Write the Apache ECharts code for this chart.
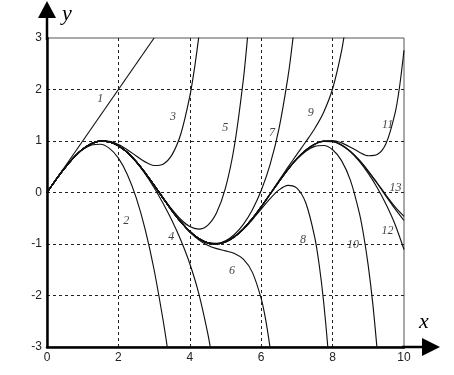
<!DOCTYPE html>
<html><head><meta charset="utf-8">
<script src="https://cdn.jsdelivr.net/npm/echarts@6/dist/echarts.min.js"></script>
<style>html,body{margin:0;padding:0;background:#fff}#c{width:454px;height:375px}</style>
</head><body><div id="c"></div>
<script>
// sin x reference
const sinX = [0,0.25,0.5,0.75,1,1.25,1.5,1.75,2,2.25,2.5,2.75,3,3.25,3.5,3.75,4,4.25,4.5,4.75,5,5.25,5.5,5.75,6,6.25,6.5,6.75,7,7.25,7.5,7.75,8,8.25,8.5,8.75,9,9.25,9.5,9.75,10];
const sinY = [0,0.2474,0.4794,0.6816,0.8415,0.9490,0.9975,0.9840,0.9093,0.7781,0.5985,0.3817,0.1411,-0.1082,-0.3508,-0.5716,-0.7568,-0.8950,-0.9775,-0.9993,-0.9589,-0.8589,-0.7055,-0.5083,-0.2794,-0.0332,0.2151,0.4500,0.6570,0.8231,0.9380,0.9946,0.9894,0.9226,0.7985,0.6247,0.4121,0.1743,-0.0752,-0.3195,-0.5440];

// Taylor partial sums, numbered as in the figure
const c1 = [[0,0],[3,3]];
const c2 = [[0,0],[0.25,0.2474],[0.5,0.4792],[0.75,0.6797],[1,0.8333],[1.25,0.9245],[1.5,0.9375],[1.75,0.8568],[2,0.6667],[2.25,0.3516],[2.5,-0.1042],[2.75,-0.7161],[3,-1.5],[3.25,-2.4714],[3.375,-3.032],[3.5,-3.6458]];
const c3 = [[0,0],[0.25,0.2474],[0.5,0.4794],[0.75,0.6817],[1,0.8417],[1.25,0.9499],[1.5,1.0008],[1.75,0.9936],[2,0.9333],[2.25,0.8321],[2.5,0.7096],[2.75,0.5946],[3,0.525],[3.25,0.5502],[3.5,0.7310],[3.75,1.1407],[4,1.8667],[4.125,2.380],[4.25,3.011]];
const c4 = [[0,0],[0.5,0.4794],[1,0.8415],[1.25,0.9490],[1.5,0.9974],[1.75,0.9836],[2,0.9079],[2.25,0.7742],[2.5,0.5885],[2.75,0.3586],[3,0.0911],[3.25,-0.2097],[3.5,-0.5456],[3.75,-0.9285],[4,-1.3841],[4.25,-1.958],[4.5,-2.724],[4.625,-3.211]];
const c5 = [[0,0],[0.5,0.4794],[1,0.8415],[1.5,0.9975],[1.75,0.9840],[2,0.9093],[2.25,0.7781],[2.5,0.5985],[2.75,0.3834],[3,0.1453],[3.25,-0.0982],[3.5,-0.3284],[3.75,-0.5244],[4,-0.6617],[4.25,-0.7113],[4.5,-0.6388],[4.75,-0.394],[5,0.089],[5.25,0.908],[5.5,2.195],[5.625,3.073]];
const c6 = [[0,0],[0.5,0.4794],[1,0.8415],[1.5,0.9975],[1.75,0.9840],[2,0.9093],[2.25,0.7781],[2.5,0.5985],[2.75,0.3817],[3,0.1408],[3.25,-0.109],[3.5,-0.3527],[3.75,-0.576],[4,-0.7668],[4.25,-0.916],[4.5,-1.0227],[4.75,-1.0898],[5,-1.134],[5.25,-1.184],[5.5,-1.295],[5.75,-1.546],[6,-2.061],[6.125,-2.470],[6.25,-3.021]];
const c7 = [[0,0],[0.5,0.4794],[1,0.8415],[1.5,0.9975],[1.75,0.9840],[2,0.9093],[2.25,0.7781],[2.5,0.5985],[2.75,0.3817],[3,0.1411],[3.25,-0.1082],[3.5,-0.3508],[3.75,-0.5714],[4,-0.756],[4.25,-0.893],[4.5,-0.973],[4.75,-0.9893],[5,-0.9375],[5.25,-0.815],[5.5,-0.6182],[5.75,-0.3394],[6,0.0372],[6.25,0.5448],[6.5,1.2449],[6.75,2.2439],[6.875,2.9067],[7,3.7173]];
const c8 = [[0,0],[0.5,0.4794],[1,0.8415],[1.5,0.9975],[1.75,0.9840],[2,0.9093],[2.25,0.7781],[2.5,0.5985],[2.75,0.3817],[3,0.1411],[3.25,-0.1082],[3.5,-0.3508],[3.75,-0.5716],[4,-0.7568],[4.25,-0.8950],[4.5,-0.9775],[4.75,-0.9996],[5,-0.961],[5.25,-0.8634],[5.5,-0.7155],[5.75,-0.5293],[6,-0.3224],[6.25,-0.1185],[6.5,0.0504],[6.75,0.1398],[7,0.0867],[7.25,-0.2027],[7.5,-0.8696],[7.625,-1.4083],[7.75,-2.1306],[7.875,-3.081],[8,-4.3166]];
const c9 = [[0,0],[0.5,0.4794],[1,0.8415],[1.5,0.9975],[1.75,0.9840],[2,0.9093],[2.25,0.7781],[2.5,0.5985],[2.75,0.3817],[3,0.1411],[3.25,-0.1082],[3.5,-0.3508],[3.75,-0.5716],[4,-0.7568],[4.25,-0.8950],[4.5,-0.9775],[4.75,-0.9993],[5,-0.9589],[5.25,-0.8589],[5.5,-0.7054],[5.75,-0.5081],[6,-0.2748],[6.25,-0.0233],[6.5,0.2359],[6.75,0.4923],[7,0.7407],[7.25,0.9850],[7.5,1.2438],[7.75,1.5600],[8,2.0142],[8.25,2.7456],[8.375,3.2834]];
const c10 = [[0,0],[0.5,0.4794],[1,0.8415],[1.5,0.9975],[1.75,0.9840],[2,0.9093],[2.25,0.7781],[2.5,0.5985],[2.75,0.3817],[3,0.1411],[3.25,-0.1082],[3.5,-0.3508],[3.75,-0.5716],[4,-0.7568],[4.25,-0.8950],[4.5,-0.9775],[4.75,-0.9993],[5,-0.9589],[5.25,-0.8589],[5.5,-0.7055],[5.75,-0.5083],[6,-0.2794],[6.25,-0.0333],[6.5,0.2128],[6.75,0.4454],[7,0.6470],[7.25,0.8024],[7.5,0.8962],[7.75,0.9119],[8,0.8295],[8.25,0.6196],[8.5,0.2357],[8.75,-0.4019],[8.875,-0.8548],[9,-1.4287],[9.125,-2.1534],[9.25,-3.0708]];
const c11 = [[0,0],[0.5,0.4794],[1,0.8415],[1.5,0.9975],[1.75,0.9840],[2,0.9093],[2.25,0.7781],[2.5,0.5985],[2.75,0.3817],[3,0.1411],[3.25,-0.1082],[3.5,-0.3508],[3.75,-0.5716],[4,-0.7568],[4.25,-0.8950],[4.5,-0.9775],[4.75,-0.9993],[5,-0.9589],[5.25,-0.8589],[5.5,-0.7055],[5.75,-0.5083],[6,-0.2794],[6.25,-0.0332],[6.5,0.2151],[6.75,0.4500],[7,0.6580],[7.25,0.8255],[7.5,0.9427],[7.75,1.0046],[8,1.0100],[8.25,0.9642],[8.5,0.8805],[8.75,0.7834],[9,0.7135],[9.25,0.7364],[9.5,0.9556],[9.75,1.5405],[9.875,2.0488],[10,2.7611]];
const c12 = [[0,0],[0.5,0.4794],[1,0.8415],[1.5,0.9975],[1.75,0.9840],[2,0.9093],[2.25,0.7781],[2.5,0.5985],[2.75,0.3817],[3,0.1411],[3.25,-0.1082],[3.5,-0.3508],[3.75,-0.5716],[4,-0.7568],[4.25,-0.8950],[4.5,-0.9775],[4.75,-0.9993],[5,-0.9589],[5.25,-0.8589],[5.5,-0.7055],[5.75,-0.5083],[6,-0.2794],[6.25,-0.0332],[6.5,0.2151],[6.75,0.4500],[7,0.6570],[7.25,0.8231],[7.5,0.9375],[7.75,0.9935],[8,0.9872],[8.25,0.9178],[8.5,0.7885],[8.75,0.6041],[9,0.3707],[9.25,0.0926],[9.5,-0.2334],[9.75,-0.6204],[10,-1.1071]];
const c13 = [[0,0],[0.5,0.4794],[1,0.8415],[1.5,0.9975],[1.75,0.9840],[2,0.9093],[2.25,0.7781],[2.5,0.5985],[2.75,0.3817],[3,0.1411],[3.25,-0.1082],[3.5,-0.3508],[3.75,-0.5716],[4,-0.7568],[4.25,-0.8950],[4.5,-0.9775],[4.75,-0.9993],[5,-0.9589],[5.25,-0.8589],[5.5,-0.7055],[5.75,-0.5083],[6,-0.2794],[6.25,-0.0332],[6.5,0.2151],[6.75,0.4500],[7,0.6570],[7.25,0.8231],[7.5,0.9380],[7.75,0.9946],[8,0.9895],[8.25,0.9231],[8.5,0.7995],[8.75,0.6270],[9,0.4170],[9.25,0.1844],[9.5,-0.0545],[9.75,-0.2781],[10,-0.4624]];

const xTicks = [0,2,4,6,8,10];
const yTicks = [-3,-2,-1,0,1,2,3];
const curveNames = ['1','2','3','4','5','6','7','8','9','10','11','12','13'];
const curveLabelAt = [[1.49,1.81],[2.22,-0.56],[3.53,1.46],[3.48,-0.87],[4.99,1.25],[5.18,-1.53],[6.30,1.15],[7.17,-0.91],[7.39,1.54],[8.57,-1.01],[9.54,1.31],[9.54,-0.75],[9.76,0.09]];

const curves = [c1,c2,c3,c4,c5,c6,c7,c8,c9,c10,c11,c12,c13];
const chart = echarts.init(document.getElementById('c'));
const lineColor = '#111';
const series = curves.map((d,i)=>({
  type:'line', name:curveNames[i], data:d, showSymbol:false, symbol:'none', smooth:0.3, clip:true,
  lineStyle:{color:lineColor,width:1.15}, silent:true, z:3
}));
series.push({type:'line', name:'sin', data:sinX.map((x,i)=>[x,sinY[i]]), showSymbol:false, symbol:'none', smooth:0.3, clip:true,
  lineStyle:{color:lineColor,width:1.15}, silent:true, z:3});
series.push({type:'scatter', data:curveLabelAt.map((p,i)=>({value:p,name:curveNames[i]})), symbolSize:0, silent:true, z:5,
  label:{show:true, position:'inside', formatter:p=>p.name, fontFamily:'Liberation Serif', fontStyle:'italic', fontSize:12, color:'#111'}});

chart.setOption({
  animation:false,
  backgroundColor:'#fff',
  grid:{left:47, right:50, top:38, bottom:28, show:true, borderColor:'#555', borderWidth:1, backgroundColor:'transparent'},
  xAxis:{type:'value', min:0, max:10, interval:2,
    axisLine:{onZero:false, lineStyle:{color:'#000', width:2.5}},
    axisTick:{show:false},
    axisLabel:{margin:5, color:'#222', fontSize:12, fontFamily:'Liberation Sans', formatter:v=>xTicks.includes(v)?String(v):''},
    splitLine:{show:true, showMinLine:false, showMaxLine:false, lineStyle:{color:'#222', type:[3,3], width:1}}},
  yAxis:{type:'value', min:-3, max:3, interval:1,
    axisLine:{onZero:false, lineStyle:{color:'#000', width:2.5}},
    axisTick:{show:false},
    axisLabel:{margin:5, color:'#222', fontSize:12, fontFamily:'Liberation Sans', formatter:v=>yTicks.includes(v)?String(v):''},
    splitLine:{show:true, showMinLine:false, showMaxLine:false, lineStyle:{color:'#222', type:[3,3], width:1}}},
  graphic:[
    {type:'line', shape:{x1:47, y1:40, x2:47, y2:16}, style:{stroke:'#000', lineWidth:2.5}, z:10},
    {type:'polygon', shape:{points:[[47,1],[38,18],[56,18]]}, style:{fill:'#000'}, z:10},
    {type:'line', shape:{x1:402, y1:347, x2:424, y2:347}, style:{stroke:'#000', lineWidth:2.5}, z:10},
    {type:'polygon', shape:{points:[[440,347],[422,338],[422,356]]}, style:{fill:'#000'}, z:10},
    {type:'text', left:62, top:3, style:{text:'y', font:'italic 22px "Liberation Serif"', fill:'#000'}, z:10},
    {type:'text', left:419, top:311, style:{text:'x', font:'italic 22px "Liberation Serif"', fill:'#000'}, z:10}
  ],
  series:series
});
</script></body></html>
